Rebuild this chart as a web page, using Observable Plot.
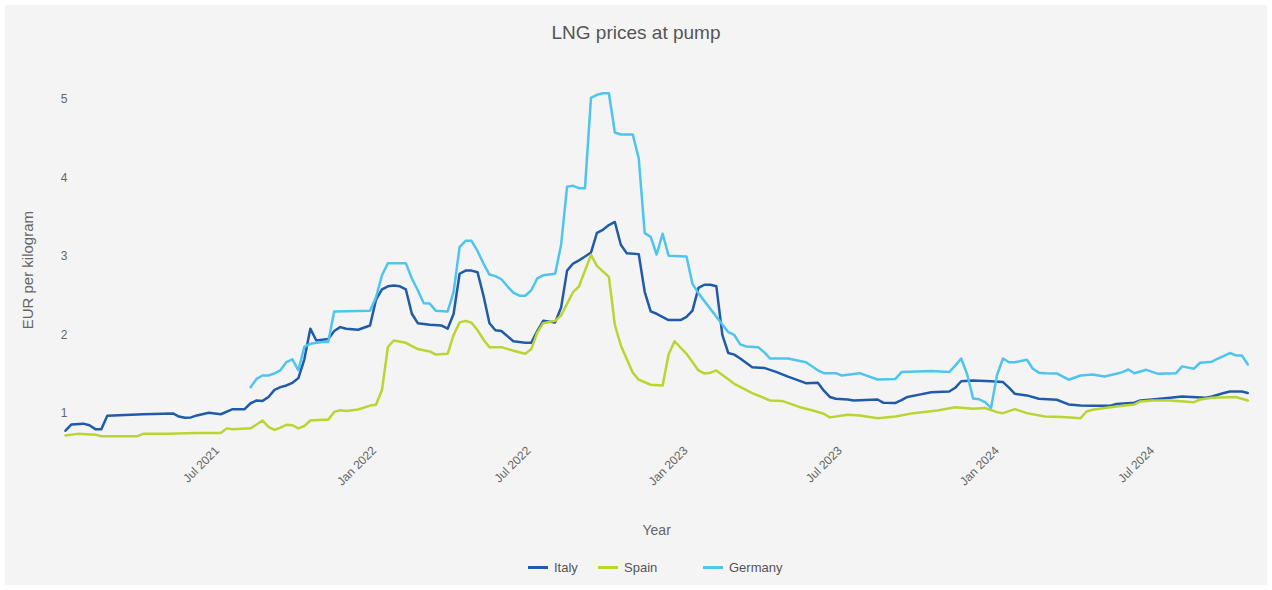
<!DOCTYPE html>
<html><head><meta charset="utf-8">
<script src="https://cdn.jsdelivr.net/npm/d3@7"></script>
<script src="https://cdn.jsdelivr.net/npm/@observablehq/plot@0.6"></script>
<style>
body{margin:0;background:#fff;font-family:"Liberation Sans",Arial,sans-serif;}
#panel{position:absolute;left:5px;top:5px;width:1262px;height:580px;background:#f4f4f4;overflow:hidden;}
#title{position:absolute;left:0;top:17px;width:100%;text-align:center;font-size:19px;line-height:22px;color:#555;}
#chart{position:absolute;left:0;top:45px;}
.leg{position:absolute;top:554px;height:16px;display:flex;align-items:center;font-size:13px;color:#555;white-space:nowrap;}
.leg span.sw{display:inline-block;width:20px;height:3px;margin-right:6px;}
</style>
</head><body>
<div id="panel">
  <div id="title">LNG prices at pump</div>
  <div id="chart"></div>
  <div id="legend"></div>
</div>
<script>
// Data: weekly observations, week index counted from the first week (Mon 4 Jan 2021)
const firstWeek = "2021-01-04";
const countries = ["Italy", "Spain", "Germany"];
const colors = ["#1f5ba8", "#b9d532", "#4fc4ef"];

const italyWeeks = [0,1,3,4,5,6,7,13,18,19,20,21,22,24,26,28,30,31,32,33,34,35,36,37,38,39,40,41,42,43,44,45,46,47,49,51,52,53,54,55,56,57,58,59,61,63,64,65,66,67,68,69,70,71,72,73,75,77,78,79,80,82,83,84,85,86,87,88,89,90,91,92,93,94,96,97,98,99,101,103,104,105,106,107,108,109,110,111,112,113,115,117,119,121,124,126,127,128,129,131,132,136,137,139,140,141,143,145,148,149,150,152,155,157,158,159,161,163,166,168,170,172,175,176,179,180,182,185,187,191,192,194,195,197,198];
const italyValues = [0.78,0.86,0.87,0.85,0.80,0.80,0.97,0.99,1.00,0.96,0.945,0.95,0.975,1.01,0.99,1.055,1.055,1.13,1.165,1.16,1.21,1.30,1.335,1.357,1.39,1.45,1.69,2.08,1.93,1.94,1.95,2.05,2.10,2.08,2.066,2.12,2.45,2.58,2.62,2.63,2.62,2.58,2.27,2.15,2.13,2.12,2.08,2.27,2.78,2.82,2.82,2.80,2.50,2.15,2.06,2.05,1.92,1.90,1.90,2.05,2.18,2.16,2.35,2.82,2.91,2.95,3.00,3.05,3.30,3.34,3.40,3.44,3.15,3.04,3.03,2.55,2.30,2.27,2.19,2.19,2.23,2.31,2.60,2.64,2.64,2.62,2.00,1.77,1.75,1.70,1.59,1.58,1.53,1.47,1.386,1.39,1.29,1.21,1.187,1.178,1.165,1.178,1.136,1.134,1.17,1.21,1.24,1.27,1.28,1.327,1.41,1.42,1.41,1.40,1.33,1.25,1.23,1.187,1.175,1.115,1.10,1.098,1.098,1.12,1.136,1.165,1.178,1.20,1.217,1.20,1.217,1.26,1.28,1.28,1.26];

const spainWeeks = [0,2,5,6,12,13,17,22,26,27,28,31,32,33,34,35,36,37,38,39,40,41,43,44,45,46,47,49,51,52,53,54,55,57,59,61,62,64,65,66,67,68,69,70,71,73,75,77,78,79,80,82,83,85,86,88,89,91,92,93,95,96,98,100,101,102,104,106,107,108,109,112,115,118,120,123,125,127,128,131,133,136,139,142,146,149,152,154,156,157,159,161,164,167,170,171,172,174,176,179,180,182,185,189,190,192,196,198];
const spainValues = [0.72,0.74,0.73,0.71,0.71,0.74,0.74,0.75,0.75,0.81,0.80,0.81,0.86,0.91,0.83,0.79,0.82,0.856,0.85,0.81,0.84,0.91,0.92,0.92,1.02,1.04,1.03,1.05,1.10,1.11,1.30,1.85,1.93,1.90,1.82,1.79,1.75,1.76,2.00,2.16,2.18,2.155,2.06,1.94,1.845,1.845,1.80,1.76,1.82,2.03,2.15,2.18,2.25,2.545,2.62,3.02,2.88,2.74,2.13,1.866,1.52,1.43,1.366,1.357,1.75,1.92,1.76,1.548,1.51,1.52,1.548,1.378,1.26,1.165,1.16,1.08,1.04,0.996,0.95,0.983,0.975,0.94,0.96,1.004,1.038,1.08,1.06,1.07,1.017,1.004,1.055,1.004,0.96,0.955,0.94,1.025,1.047,1.07,1.09,1.115,1.153,1.165,1.165,1.144,1.178,1.20,1.21,1.165];

const germanyWeeks = [31,32,33,34,35,36,37,38,39,40,41,43,44,45,51,52,53,54,57,58,59,60,61,62,64,65,66,67,68,69,70,71,72,73,74,75,76,77,78,79,80,82,83,84,85,86,87,88,89,90,91,92,93,95,96,97,98,99,100,101,104,105,106,111,112,113,114,116,117,118,121,124,126,127,129,130,133,136,139,140,145,148,149,150,151,152,153,154,155,156,157,158,159,161,162,163,164,166,168,170,172,174,176,177,178,179,181,183,186,187,189,190,192,193,195,196,197,198];
const germanyValues = [1.335,1.44,1.484,1.484,1.51,1.55,1.655,1.69,1.55,1.85,1.887,1.91,1.91,2.30,2.31,2.48,2.76,2.915,2.915,2.72,2.57,2.405,2.40,2.31,2.30,2.55,3.12,3.20,3.20,3.07,2.91,2.77,2.75,2.71,2.62,2.54,2.50,2.50,2.57,2.72,2.76,2.78,3.15,3.89,3.90,3.87,3.87,5.02,5.06,5.08,5.08,4.58,4.554,4.554,4.25,3.297,3.25,3.025,3.29,3.01,3.00,2.65,2.53,2.036,2.00,1.88,1.853,1.845,1.78,1.70,1.70,1.653,1.55,1.513,1.513,1.484,1.513,1.433,1.44,1.527,1.54,1.527,1.61,1.70,1.50,1.19,1.18,1.144,1.07,1.49,1.70,1.653,1.653,1.684,1.57,1.52,1.513,1.51,1.43,1.484,1.497,1.47,1.505,1.527,1.56,1.513,1.556,1.505,1.513,1.60,1.57,1.646,1.66,1.70,1.77,1.74,1.74,1.624];

const yTicks = [1, 2, 3, 4, 5];
const xTickLabels = ["2021-07-01","2022-01-01","2022-07-01","2023-01-01","2023-07-01","2024-01-01","2024-07-01"];
const yLabel = "EUR per kilogram";
const xLabel = "Year";
const lastWeek = 198;

const start = new Date(firstWeek + "T00:00:00Z");
const toDate = w => d3.utcDay.offset(start, 7 * w);
const series = [
  {name: "Italy", weeks: italyWeeks, values: italyValues},
  {name: "Spain", weeks: spainWeeks, values: spainValues},
  {name: "Germany", weeks: germanyWeeks, values: germanyValues}
];
const rows = series.flatMap(s => s.weeks.map((w, i) => ({country: s.name, date: toDate(w), value: s.values[i]})));
const xTicks = xTickLabels.map(s => new Date(s + "T00:00:00Z"));

const chart = Plot.plot({
  width: 1262, height: 500,
  marginLeft: 60, marginRight: 19.7, marginTop: 33.3, marginBottom: 108,
  style: {background: "transparent", fontFamily: "'Liberation Sans', Arial, sans-serif"},
  x: {type: "utc", domain: [toDate(0), toDate(lastWeek)]},
  y: {domain: [0.63, 5.2]},
  color: {domain: countries, range: colors},
  marks: [
    Plot.axisY({ticks: yTicks, tickFormat: d => String(d), tickSize: 0, tickPadding: -2, fontSize: 12, color: "#666", label: null}),
    Plot.axisX({ticks: xTicks, tickFormat: d3.utcFormat("%b %Y"), tickRotate: -45, tickSize: 0, tickPadding: 6, fontSize: 12, color: "#666", label: null}),
    Plot.lineY(rows, {x: "date", y: "value", z: "country", stroke: "country", strokeWidth: 2.5}),
    Plot.text([yLabel], {text: d => d, frameAnchor: "left", textAnchor: "middle", dx: -37, dy: 7, rotate: -90, fontSize: 15, fill: "#666"}),
    Plot.text([xLabel], {text: d => d, frameAnchor: "bottom", dy: 92, fontSize: 14, fill: "#666"})
  ]
});
document.getElementById("chart").appendChild(chart);

const legendPos = [523, 593, 698];
const legend = document.getElementById("legend");
countries.forEach((c, i) => {
  const item = document.createElement("div");
  item.className = "leg";
  item.style.left = legendPos[i] + "px";
  item.innerHTML = `<span class="sw" style="background:${colors[i]}"></span>${c}`;
  legend.appendChild(item);
});
</script>
</body></html>
